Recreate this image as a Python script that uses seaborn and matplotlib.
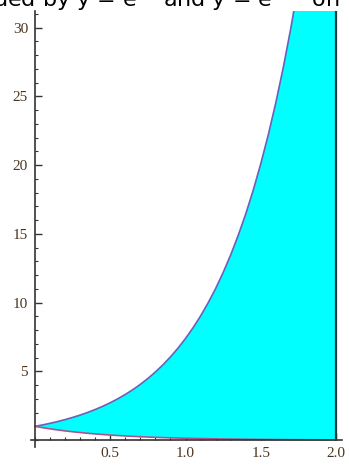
import numpy as np
import pandas as pd
import matplotlib
matplotlib.use("Agg")
import matplotlib.pyplot as plt
from matplotlib.ticker import MultipleLocator
import seaborn as sns

# values: upper curve (y = e^{2x}) and lower curve (y = e^{-2x})
x_vals = [0.00, 0.05, 0.10, 0.15, 0.20, 0.25, 0.30, 0.35, 0.40, 0.45,
          0.50, 0.55, 0.60, 0.65, 0.70, 0.75, 0.80, 0.85, 0.90, 0.95,
          1.00, 1.05, 1.10, 1.15, 1.20, 1.25, 1.30, 1.35, 1.40, 1.45,
          1.50, 1.55, 1.60, 1.65, 1.70, 1.75, 1.80, 1.85, 1.90, 1.95, 2.00]
upper_vals = [1.000, 1.105, 1.221, 1.350, 1.492, 1.649, 1.822, 2.014, 2.226, 2.460,
              2.718, 3.004, 3.320, 3.669, 4.055, 4.482, 4.953, 5.474, 6.050, 6.686,
              7.389, 8.166, 9.025, 9.974, 11.02, 12.18, 13.46, 14.88, 16.44, 18.17,
              20.09, 22.20, 24.53, 27.11, 29.96, 33.12, 36.60, 40.45, 44.70, 49.40, 54.60]
lower_vals = [1.000, 0.905, 0.819, 0.741, 0.670, 0.607, 0.549, 0.497, 0.449, 0.407,
              0.368, 0.333, 0.301, 0.273, 0.247, 0.223, 0.202, 0.183, 0.165, 0.150,
              0.135, 0.122, 0.111, 0.100, 0.091, 0.082, 0.074, 0.067, 0.061, 0.055,
              0.050, 0.045, 0.041, 0.037, 0.033, 0.030, 0.027, 0.025, 0.022, 0.020, 0.018]
x_ticks = [0.5, 1.0, 1.5, 2.0]
x_tick_labels = ["0.5", "1.0", "1.5", "2.0"]
y_ticks = [5, 10, 15, 20, 25, 30]
y_tick_labels = ["5", "10", "15", "20", "25", "30"]

df = pd.DataFrame({"x": x_vals, "upper": upper_vals, "lower": lower_vals})

sns.set_style("white")
plt.rcParams['font.family'] = ['DejaVu Sans']

fig = plt.figure(figsize=(3.49, 4.66), dpi=100)
ax = fig.add_axes([0.0874, 0.0408, 0.8926, 0.9356])

# filled region
ax.fill_between(df["x"], df["lower"], df["upper"], color="#00ffff", linewidth=0, zorder=1)
sns.lineplot(data=df, x="x", y="upper", color="#6f5fb8", linewidth=1.2, ax=ax, zorder=3)
sns.lineplot(data=df, x="x", y="lower", color="#a8568a", linewidth=1.2, ax=ax, zorder=3)
# right edge of the region
ax.plot([df["x"].iloc[-1]] * 2, [df["lower"].iloc[-1], df["upper"].iloc[-1]],
        color="#1f3a3a", linewidth=1.6, zorder=3)

ax.set_xlim(-0.03, 2.04)
ax.set_ylim(-0.5, 31.2)

for s in ["top", "right"]:
    ax.spines[s].set_visible(False)
for s in ["left", "bottom"]:
    ax.spines[s].set_position(("data", 0))
    ax.spines[s].set_color("#333333")
    ax.spines[s].set_linewidth(1.2)
    ax.spines[s].set_zorder(4)

ax.set_xticks(x_ticks)
ax.set_xticklabels(x_tick_labels)
ax.set_yticks(y_ticks)
ax.set_yticklabels(y_tick_labels)
ax.xaxis.set_minor_locator(MultipleLocator(0.1))
ax.yaxis.set_minor_locator(MultipleLocator(1))
ax.tick_params(which="both", bottom=True, left=True, direction="in", color="#333333")
ax.tick_params(which="major", length=5, width=1, labelsize=11,
               labelcolor="#4a3520", pad=5)
ax.tick_params(which="minor", length=2.5, width=0.8)
for lab in ax.get_xticklabels() + ax.get_yticklabels():
    lab.set_family("Liberation Serif")
ax.set_xlabel("")
ax.set_ylabel("")

# title, mostly cut off at the top of the picture
fig.text(-0.02, 0.985, "ded by y = e$^{2x}$ and y = e$^{-2x}$ on", fontsize=16,
         ha="left", va="baseline", color="black")

fig.savefig("out.png", dpi=100)
